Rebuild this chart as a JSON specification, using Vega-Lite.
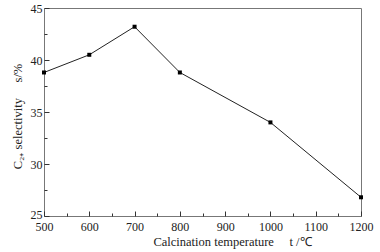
{
  "$schema": "https://vega.github.io/schema/vega-lite/v6.json",
  "width": 317,
  "height": 208,
  "autosize": "none",
  "padding": {"left": 44, "top": 8, "right": 19, "bottom": 36},
  "background": "white",
  "config": {
    "view": {"stroke": "#777", "strokeWidth": 1},
    "font": "Liberation Serif",
    "axis": {
      "grid": false,
      "domain": false,
      "labelFont": "Liberation Serif",
      "titleFont": "Liberation Serif",
      "labelFontSize": 12,
      "titleFontSize": 12.5,
      "titleFontWeight": "normal",
      "labelColor": "#222",
      "titleColor": "#222",
      "tickColor": "#333"
    }
  },
  "data": {
    "values": [
      {"t": 500, "s": 38.8},
      {"t": 600, "s": 40.5},
      {"t": 700, "s": 43.2},
      {"t": 800, "s": 38.8},
      {"t": 1000, "s": 34.0},
      {"t": 1200, "s": 26.8}
    ]
  },
  "encoding": {
    "x": {
      "field": "t",
      "type": "quantitative",
      "scale": {"domain": [500, 1200], "nice": false},
      "axis": {
        "title": "Calcination temperature\u00a0\u00a0\u00a0\u00a0\u00a0t /℃",
        "values": [500,550,600,650,700,750,800,850,900,950,1000,1050,1100,1150,1200],
        "labelExpr": "datum.value % 100 === 0 ? datum.label : ''",
        "format": "d",
        "tickSize": {"expr": "datum.value % 100 === 0 ? -5 : -3"},
        "labelPadding": 10,
        "titlePadding": 1,
        "titleX": 188,
        "labelFlush": false,
        "labelOverlap": false
      }
    },
    "y": {
      "field": "s",
      "type": "quantitative",
      "scale": {"domain": [25, 45], "nice": false, "zero": false},
      "axis": {
        "title": "C₂₊ selectivity\u00a0\u00a0\u00a0\u00a0\u00a0s/%",
        "values": [25,27.5,30,32.5,35,37.5,40,42.5,45],
        "labelExpr": "datum.value % 5 === 0 ? datum.label : ''",
        "tickSize": {"expr": "datum.value % 5 === 0 ? -5 : -3"},
        "labelOffset": {"expr": "datum.value === 25 ? -2 : 0"},
        "labelPadding": 7,
        "titlePadding": 6,
        "titleY": 108,
        "labelFlush": false,
        "labelOverlap": false
      }
    }
  },
  "layer": [
    {"mark": {"type": "line", "color": "#222", "strokeWidth": 1}},
    {"mark": {"type": "square", "color": "#000", "size": 16, "opacity": 1, "filled": true}}
  ]
}
